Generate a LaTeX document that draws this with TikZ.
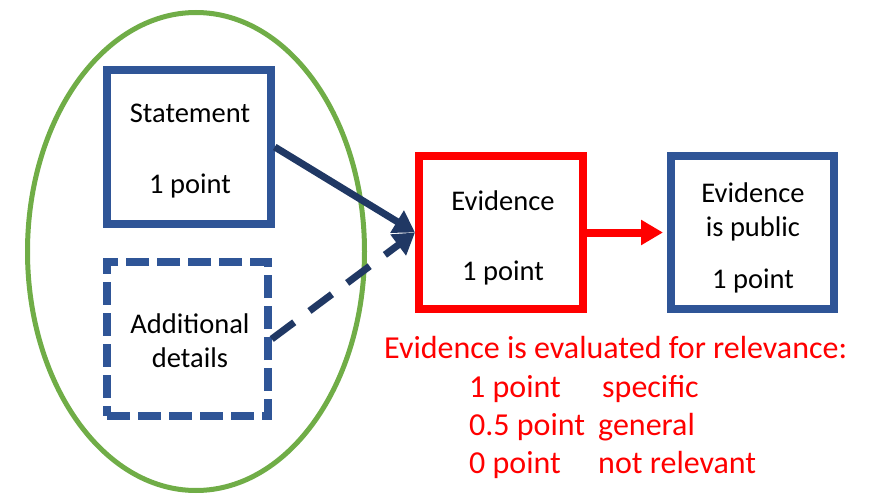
\documentclass[tikz,border=0pt]{standalone}
\usepackage{fontspec}
\setmainfont{Carlito}
\usetikzlibrary{arrows.meta,shapes.geometric}
\definecolor{boxblue}{HTML}{2F5597}
\definecolor{arrowblue}{HTML}{203864}
\definecolor{ringgreen}{HTML}{70AD47}
\definecolor{hotred}{HTML}{FF0000}
\tikzset{
  bluebox/.style={draw=boxblue, line width=7.5pt, fill=white, inner sep=0pt, minimum width=164pt, minimum height=154pt},
  redbox/.style={draw=hotred, line width=8pt, fill=white, inner sep=0pt, minimum width=164pt, minimum height=153pt},
  boxtext/.style={font=\fontsize{28.5}{34}\selectfont, anchor=base, inner sep=0pt},
  redtext/.style={font=\fontsize{32}{38}\selectfont, text=hotred, anchor=base west, inner sep=0pt},
  navyarrow/.style={draw=arrowblue, line width=7pt, -{Triangle[length=21pt,width=25pt]}},
}
\begin{document}
\begin{tikzpicture}[x=1pt,y=-1pt]
\useasboundingbox (0,0) rectangle (871,495);
\node[draw=ringgreen, line width=5pt, ellipse, inner sep=0pt, minimum width=337pt, minimum height=478pt] (ring) at (196,251.5) {};
\node[bluebox] (stmt) at (189,147) {};
\node[bluebox, minimum width=161pt, dash pattern=on 23pt off 8pt] (add) at (187.5,339) {};
\node[redbox] (ev) at (501,232.5) {};
\node[bluebox, minimum width=163pt, line width=8pt, minimum height=153pt] (pub) at (752.5,232.5) {};
% texts
\node[boxtext] (t1) at (190,123) {Statement};
\node[boxtext] (t2) at (190,193) {1 point};
\node[boxtext] (t3) at (190,333) {Additional};
\node[boxtext] (t4) at (190,367) {details};
\node[boxtext] (t5) at (503,210) {Evidence};
\node[boxtext] (t6) at (503,280) {1 point};
\node[boxtext] (t7) at (753,202) {Evidence};
\node[boxtext] (t8) at (753,236) {is public};
\node[boxtext] (t9) at (753,288) {1 point};
% arrows
\draw[navyarrow] (stmt.east) -- (ev.west);
\draw[navyarrow, dash pattern=on 28pt off 19pt] (add.east) -- (ev.west);
\draw[draw=hotred, line width=8pt, -{Triangle[length=22pt,width=24pt]}, shorten >=4pt] (ev.east) -- (pub.west);
% red notes
\node[redtext] (r0) at (384,358) {Evidence is evaluated for relevance:};
\node[redtext] (r1) at (469,397) {1 point};
\node[redtext] (r1b) at (602,397) {specific};
\node[redtext] (r2) at (469,435) {0.5 point};
\node[redtext] (r2b) at (598,435) {general};
\node[redtext] (r3) at (469,473) {0 point};
\node[redtext] (r3b) at (598,473) {not relevant};
\end{tikzpicture}
\end{document}
